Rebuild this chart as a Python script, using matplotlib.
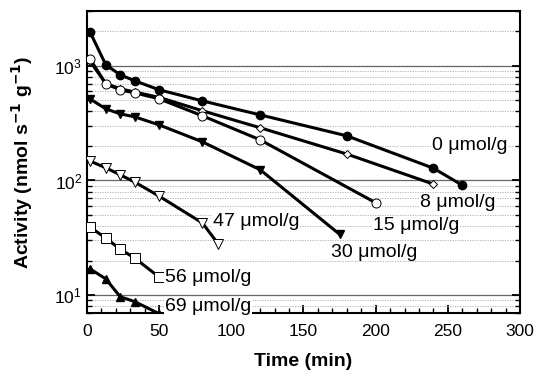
import matplotlib
matplotlib.use("Agg")
import matplotlib.pyplot as plt
from matplotlib.ticker import LogLocator, MultipleLocator, NullFormatter

plt.rcParams['font.family'] = ['Liberation Sans', 'DejaVu Sans']
plt.rcParams['mathtext.fontset'] = 'custom'
plt.rcParams['mathtext.rm'] = 'Liberation Sans'

# activity data (time in min, activity in nmol s-1 g-1)
t0 = [2, 13, 23, 33, 50, 80, 120, 180, 240, 260]
a0 = [1980, 1020, 834, 740, 617, 494, 373, 245, 128, 91]

t8 = [2, 13, 23, 33, 50, 80, 120, 180, 240]
a8 = [1100, 700, 630, 590, 530, 405, 288, 170, 93]

t15 = [2, 13, 23, 33, 50, 80, 120, 200]
a15 = [1150, 697, 615, 581, 515, 366, 226, 64]

t30 = [2, 13, 23, 33, 50, 80, 120, 175]
a30 = [515, 421, 381, 359, 305, 217, 124, 34]

t47 = [2, 13, 23, 33, 50, 80, 91]
a47 = [148, 129, 112, 97, 73, 42.6, 27.9]

t56 = [2, 13, 23, 33, 50]
a56 = [39.3, 31.5, 25.2, 21.1, 14.4]

t69 = [2, 13, 23, 33, 50]
a69 = [17.0, 13.9, 9.7, 8.8, 6.9]

labels = ['0 \u03bcmol/g', '8 \u03bcmol/g', '15 \u03bcmol/g', '30 \u03bcmol/g',
          '47 \u03bcmol/g', '56 \u03bcmol/g', '69 \u03bcmol/g']
label_x = [239, 231, 198, 169, 87, 54, 54]
label_y = [200, 64.9, 40.8, 23.8, 43.5, 14.4, 8.0]

fig = plt.figure(figsize=(5.38, 3.82), dpi=100)
ax = fig.add_axes([0.1617, 0.1806, 0.8048, 0.7906])
ax.set_yscale('log')

# grid: solid at decades, dotted in between
ax.yaxis.grid(True, which='major', color='#666666', lw=0.9, ls='-', zorder=0)
ax.yaxis.grid(True, which='minor', color='#aaaaaa', lw=0.6, ls=(0, (1.5, 1.5)), zorder=0)
ax.set_axisbelow(True)

lw = 2.2
ax.plot(t8, a8, '-', color='black', lw=lw, marker='D', ms=4, mfc='white',
        mec='black', mew=0.7, zorder=3)
ax.plot(t0, a0, '-', color='black', lw=lw, marker='o', ms=6, mfc='black',
        mec='black', zorder=4)
ax.plot(t15, a15, '-', color='black', lw=lw, marker='o', ms=6.5, mfc='white',
        mec='black', mew=0.7, zorder=4)
ax.plot(t30, a30, '-', color='black', lw=lw, marker='v', ms=5.5, mfc='black',
        mec='black', zorder=4)
ax.plot(t47, a47, '-', color='black', lw=lw, marker='v', ms=6.5, mfc='white',
        mec='black', mew=0.7, zorder=4)
ax.plot(t56, a56, '-', color='black', lw=lw, marker='s', ms=6.5, mfc='white',
        mec='black', mew=0.7, zorder=4)
ax.plot(t69, a69, '-', color='black', lw=lw, marker='^', ms=5.5, mfc='black',
        mec='black', zorder=4)

for lab, x, y in zip(labels, label_x, label_y):
    ax.text(x, y, lab, fontsize=14, va='center', ha='left', zorder=5,
            bbox=dict(facecolor='white', edgecolor='none', pad=0.5))

ax.set_xlim(0, 300)
ax.set_ylim(7, 3000)
ax.xaxis.set_major_locator(MultipleLocator(50))
ax.xaxis.set_minor_locator(MultipleLocator(10))
ax.yaxis.set_major_locator(LogLocator(base=10))
ax.yaxis.set_minor_locator(LogLocator(base=10, subs=range(2, 10)))
ax.yaxis.set_minor_formatter(NullFormatter())

ax.tick_params(axis='both', which='both', direction='in', labelsize=12.5)
ax.tick_params(axis='y', which='both', right=True)
ax.tick_params(axis='x', which='both', top=False)
ax.tick_params(which='major', length=6, width=1.3)
ax.tick_params(which='minor', length=3.5, width=1.0)
ax.tick_params(axis='x', pad=8)
for s in ax.spines.values():
    s.set_linewidth(1.5)

ax.set_xlabel('Time (min)', fontsize=14, fontweight='bold', labelpad=10)
ax.set_ylabel('Activity (nmol s$^{\\mathbf{-1}}$ g$^{\\mathbf{-1}}$)', fontsize=14,
              fontweight='bold', labelpad=14)

fig.savefig('out.png', dpi=100)
